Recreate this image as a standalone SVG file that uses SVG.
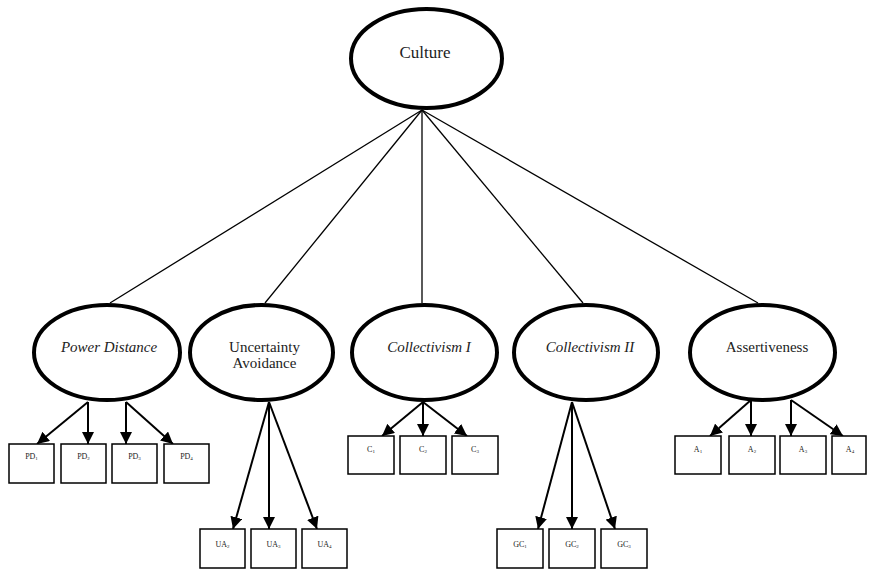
<svg xmlns="http://www.w3.org/2000/svg" width="869" height="570" viewBox="0 0 869 570">
<defs>
<style>
.lat{fill:#fff;stroke:#000;stroke-width:4}
.box{fill:#fff;stroke:#000;stroke-width:1.5}
text{font-family:"Liberation Serif","Times New Roman",serif;fill:#222;text-anchor:middle}
.lbl{font-size:15px}
.big{font-size:17px}
.it{font-style:italic}
.ind{font-size:8px}
.sub{font-size:5px}
.load{stroke:#000;stroke-width:1.3;fill:none}
.arr{stroke:#000;stroke-width:2;fill:none}
</style>
<marker id="ah" viewBox="0 0 12 12" refX="12" refY="6" markerWidth="12" markerHeight="12" orient="auto" markerUnits="userSpaceOnUse">
<path d="M0,0 L12,6 L0,12 z" fill="#000"/>
</marker>
</defs>
<g id="connectors">
<line class="load" x1="422" y1="110" x2="110" y2="303"/>
<line class="load" x1="422" y1="110" x2="265" y2="303"/>
<line class="load" x1="422" y1="110" x2="422" y2="303"/>
<line class="load" x1="422" y1="110" x2="583" y2="303"/>
<line class="load" x1="422" y1="110" x2="758" y2="303"/>
<line class="arr" marker-end="url(#ah)" x1="88" y1="402" x2="37" y2="444"/>
<line class="arr" marker-end="url(#ah)" x1="88" y1="402" x2="88" y2="444"/>
<line class="arr" marker-end="url(#ah)" x1="126" y1="402" x2="126" y2="444"/>
<line class="arr" marker-end="url(#ah)" x1="126" y1="402" x2="173" y2="444"/>
<line class="arr" marker-end="url(#ah)" x1="269" y1="402" x2="233" y2="529"/>
<line class="arr" marker-end="url(#ah)" x1="269" y1="402" x2="269" y2="529"/>
<line class="arr" marker-end="url(#ah)" x1="269" y1="402" x2="317" y2="529"/>
<line class="arr" marker-end="url(#ah)" x1="423" y1="402" x2="382" y2="436"/>
<line class="arr" marker-end="url(#ah)" x1="423" y1="402" x2="423" y2="436"/>
<line class="arr" marker-end="url(#ah)" x1="423" y1="402" x2="467" y2="436"/>
<line class="arr" marker-end="url(#ah)" x1="572" y1="402" x2="538" y2="529"/>
<line class="arr" marker-end="url(#ah)" x1="572" y1="402" x2="572" y2="529"/>
<line class="arr" marker-end="url(#ah)" x1="572" y1="402" x2="615" y2="529"/>
<line class="arr" marker-end="url(#ah)" x1="751" y1="400" x2="710" y2="436"/>
<line class="arr" marker-end="url(#ah)" x1="751" y1="400" x2="751" y2="436"/>
<line class="arr" marker-end="url(#ah)" x1="791" y1="400" x2="791" y2="436"/>
<line class="arr" marker-end="url(#ah)" x1="791" y1="400" x2="843" y2="436"/>
</g>
<g id="culture">
<ellipse class="lat" cx="426.5" cy="58.5" rx="75.5" ry="49.5"/>
<text class="big" x="425" y="58">Culture</text>
</g>
<g id="power-distance">
<ellipse class="lat" cx="107" cy="352.5" rx="73" ry="47.5"/>
<text class="lbl it" x="109" y="352">Power Distance</text>
</g>
<g id="uncertainty-avoidance">
<ellipse class="lat" cx="261.5" cy="352.5" rx="71.5" ry="47.5"/>
<text class="lbl" x="264.5" y="352">Uncertainty</text>
<text class="lbl" x="264.5" y="368">Avoidance</text>
</g>
<g id="collectivism-1">
<ellipse class="lat" cx="424.5" cy="352.5" rx="72.5" ry="47.5"/>
<text class="lbl it" x="429" y="352">Collectivism I</text>
</g>
<g id="collectivism-2">
<ellipse class="lat" cx="586" cy="352.5" rx="72" ry="47.5"/>
<text class="lbl it" x="590" y="352">Collectivism II</text>
</g>
<g id="assertiveness">
<ellipse class="lat" cx="762.5" cy="352.5" rx="72.5" ry="47.5"/>
<text class="lbl" x="767" y="352">Assertiveness</text>
</g>
<g id="pd1"><rect class="box" x="9" y="444" width="45" height="39"/><text class="ind" x="31.5" y="459">PD<tspan class="sub" dy="1">1</tspan></text></g>
<g id="pd2"><rect class="box" x="61" y="444" width="45" height="39"/><text class="ind" x="83.5" y="459">PD<tspan class="sub" dy="1">2</tspan></text></g>
<g id="pd3"><rect class="box" x="112" y="444" width="45" height="39"/><text class="ind" x="134.5" y="459">PD<tspan class="sub" dy="1">3</tspan></text></g>
<g id="pd4"><rect class="box" x="164" y="444" width="45" height="39"/><text class="ind" x="186.5" y="459">PD<tspan class="sub" dy="1">4</tspan></text></g>
<g id="ua2"><rect class="box" x="200" y="529" width="45" height="39"/><text class="ind" x="222.5" y="547">UA<tspan class="sub" dy="1">2</tspan></text></g>
<g id="ua3"><rect class="box" x="251" y="529" width="45" height="39"/><text class="ind" x="273.5" y="547">UA<tspan class="sub" dy="1">3</tspan></text></g>
<g id="ua4"><rect class="box" x="302" y="529" width="45" height="39"/><text class="ind" x="324.5" y="547">UA<tspan class="sub" dy="1">4</tspan></text></g>
<g id="c1"><rect class="box" x="348" y="436" width="46" height="38"/><text class="ind" x="371" y="452">C<tspan class="sub" dy="1">1</tspan></text></g>
<g id="c2"><rect class="box" x="400" y="436" width="46" height="38"/><text class="ind" x="423" y="452">C<tspan class="sub" dy="1">2</tspan></text></g>
<g id="c3"><rect class="box" x="452" y="436" width="46" height="38"/><text class="ind" x="475" y="452">C<tspan class="sub" dy="1">3</tspan></text></g>
<g id="gc1"><rect class="box" x="497" y="529" width="46" height="39"/><text class="ind" x="520" y="547">GC<tspan class="sub" dy="1">1</tspan></text></g>
<g id="gc2"><rect class="box" x="549" y="529" width="46" height="39"/><text class="ind" x="572" y="547">GC<tspan class="sub" dy="1">2</tspan></text></g>
<g id="gc3"><rect class="box" x="601" y="529" width="46" height="39"/><text class="ind" x="624" y="547">GC<tspan class="sub" dy="1">3</tspan></text></g>
<g id="a1"><rect class="box" x="675" y="436" width="46" height="38"/><text class="ind" x="698" y="452">A<tspan class="sub" dy="1">1</tspan></text></g>
<g id="a2"><rect class="box" x="729" y="436" width="46" height="38"/><text class="ind" x="752" y="452">A<tspan class="sub" dy="1">2</tspan></text></g>
<g id="a3"><rect class="box" x="780" y="436" width="46" height="38"/><text class="ind" x="803" y="452">A<tspan class="sub" dy="1">3</tspan></text></g>
<g id="a4"><rect class="box" x="832" y="436" width="34" height="38"/><text class="ind" x="850" y="452">A<tspan class="sub" dy="1">4</tspan></text></g>
</svg>
